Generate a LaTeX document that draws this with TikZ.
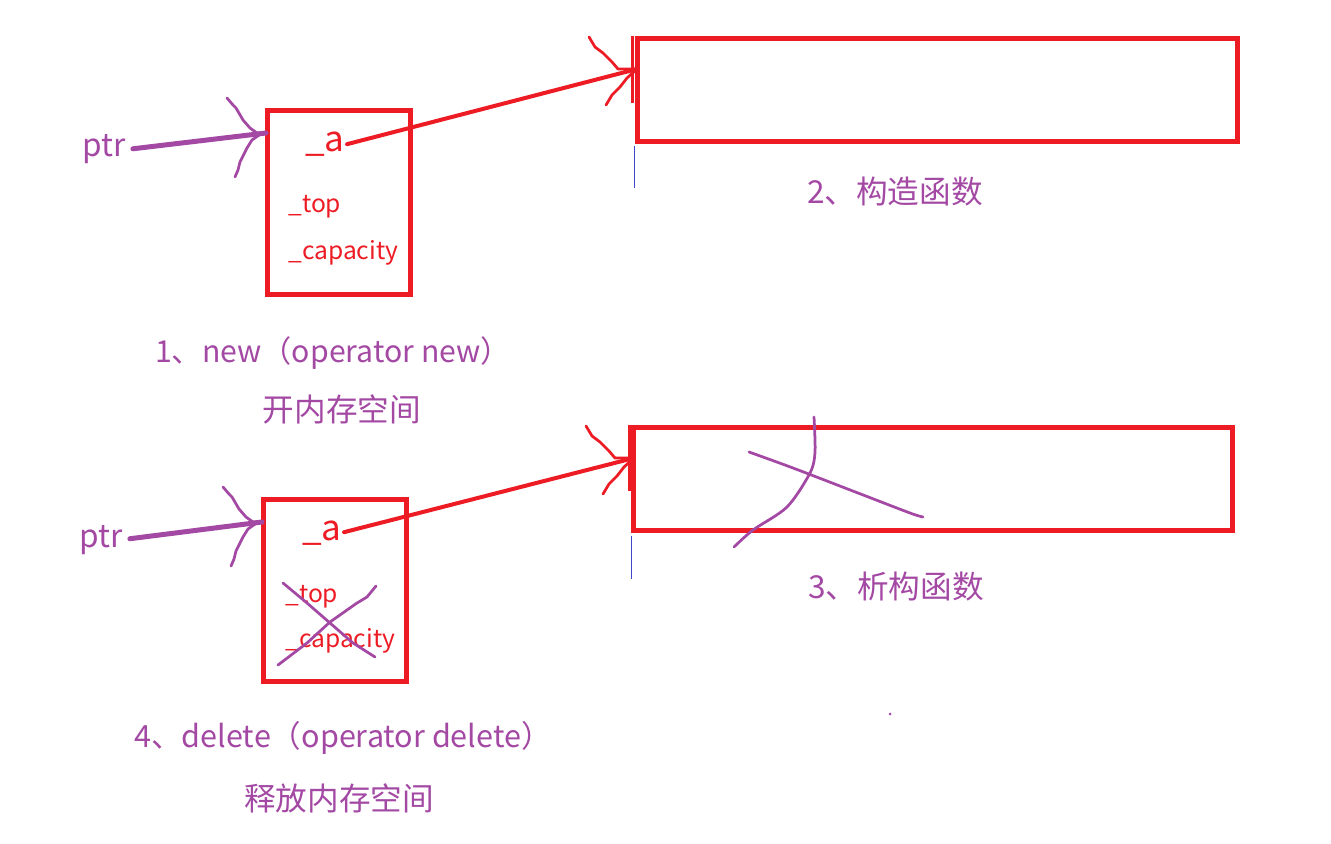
\documentclass[tikz,border=0pt]{standalone}
\usepackage{fontspec}
\setmainfont{Noto Sans CJK SC}
\definecolor{hongdo}{RGB}{237,28,36}
\definecolor{tim}{RGB}{163,73,164}
\definecolor{xanh}{RGB}{63,72,204}
\begin{document}
\begin{tikzpicture}[x=0.02cm, y=-0.02cm,
			khung/.style={
				draw=hongdo,
				line width=0.1cm,
				inner sep=0pt
			},
			chu/.style={
				text=tim,
				font=\fontsize{18}{20}\selectfont,
				anchor=base,
				inner sep=0pt
			},
			bien/.style={
				text=hongdo,
				font=\fontsize{14}{17}\selectfont,
				anchor=base west,
				inner sep=0pt
			},
			muitim/.style={draw=tim, line width=0.1cm, line cap=round},
			muido/.style={draw=hongdo, line width=0.08cm, line cap=round},
			netve/.style={line width=0.055cm, line cap=round, line join=round}
			]
			\useasboundingbox (0,0) rectangle (1331,844);
			%---------------- PHẦN TRÊN ----------------
			\node[khung, minimum width=2.87cm, minimum height=3.69cm] (o1) at (338.75,202.25) {};
			\node[khung, minimum width=12.01cm, minimum height=2.07cm] (o2) at (937.25,89.75) {};
			\draw[hongdo, line width=0.06cm] ([xshift=-0.04cm]o2.north west) -- ++(0,67);
			\draw[xanh, line width=0.02cm] ([yshift=-0.05cm]o2.south west) -- ++(0,42);
			\node[chu] (ptr1) at (104,157) {ptr};
			\node[bien, font=\fontsize{20}{24}\selectfont] (a1) at (305,152) {\_a};
			\node[bien] (top1) at (288,213) {\_top};
			\node[bien] (cap1) at (288,260) {\_capacity};
			\node[chu] (l2) at (895,204) {2、构造函数};
			\node[chu, font=\fontsize{17.2}{20}\selectfont] (l1) at (333,362) {1、new（operator new）};
			\node[chu] (m1) at (342,421) {开内存空间};
			\coordinate (t1) at (266,133);
			\coordinate (t2) at (637,69);
			\draw[muitim, shorten <=0.14cm] (ptr1.east) -- (t1);
			\draw[tim, netve] (t1) -- (257,133) -- (250,128) -- (243,120) -- (236,108) -- (233,105) -- (227,98);
			\draw[tim, netve] (t1) -- (262,133) -- (252,140) -- (247,148) -- (240,162) -- (238,170) -- (235,177);
			\draw[muido, shorten <=0.04cm] (a1.east) -- (t2);
			\draw[hongdo, netve] (t2) -- (618,69) -- (612,62) -- (603,53) -- (595,47) -- (589,37);
			\draw[hongdo, netve] (t2) -- (627,78) -- (620,87) -- (612,95) -- (606,105);
			%---------------- PHẦN DƯỚI ----------------
			\node[khung, minimum width=2.88cm, minimum height=3.66cm] (o3) at (335,590.5) {};
			\node[khung, minimum width=11.99cm, minimum height=2.08cm] (o4) at (933.2,479) {};
			\draw[hongdo, line width=0.06cm] ([xshift=-0.04cm]o4.north west) -- ++(0,66);
			\draw[xanh, line width=0.02cm] ([yshift=-0.05cm]o4.south west) -- ++(0,43);
			\node[chu] (ptr2) at (101,547) {ptr};
			\node[bien, font=\fontsize{20}{24}\selectfont] (a2) at (302,540) {\_a};
			\node[bien] (top2) at (285,602) {\_top};
			\node[bien] (cap2) at (285,647) {\_capacity};
			\node[chu] (l3) at (896,598) {3、析构函数};
			\node[chu, font=\fontsize{17.4}{20}\selectfont] (l4) at (343,747) {4、delete（operator delete）};
			\node[chu] (m4) at (339,810) {释放内存空间};
			\coordinate (t3) at (262,522);
			\coordinate (t4) at (634,458);
			\draw[muitim, shorten <=0.14cm] (ptr2.east) -- (t3);
			\draw[tim, netve] (t3) -- (253,522) -- (246,517) -- (239,509) -- (232,497) -- (229,494) -- (223,487);
			\draw[tim, netve] (t3) -- (258,522) -- (248,529) -- (243,537) -- (236,551) -- (234,559) -- (231,566);
			\draw[muido, shorten <=0.04cm] (a2.east) -- (t4);
			\draw[hongdo, netve] (t4) -- (615,458) -- (609,451) -- (600,442) -- (592,436) -- (586,426);
			\draw[hongdo, netve] (t4) -- (624,467) -- (617,476) -- (609,484) -- (603,494);
			% gach cheo
			\draw[tim, netve] (283,583) -- (307,603) -- (330,623) -- (353,643) -- (375,657);
			\draw[tim, netve] (278,665) -- (307,643) -- (330,622) -- (357,603) -- (367,597) -- (376,586);
			\draw[tim, netve] plot[smooth] coordinates {(814,417) (815,452) (810,473) (787,507) (753,530) (734,547)};
			\draw[tim, netve] plot[smooth] coordinates {(749,452) (793,468) (858,493) (910,513) (923,517)};
			\fill[tim] (890,714) circle (0.03cm);
		\end{tikzpicture}
\end{document}
